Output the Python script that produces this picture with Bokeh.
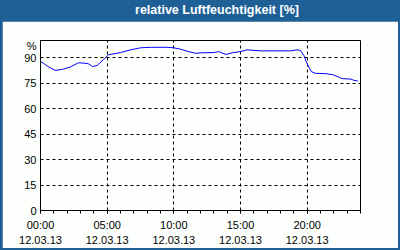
from bokeh.plotting import figure
from bokeh.models import Range1d, FixedTicker, Div
from bokeh.layouts import column
from bokeh.embed import file_html
from bokeh.resources import INLINE

# data: hours since 12.03.13 00:00, relative humidity [%]
hours = [0.0, 0.5, 1.1, 1.65, 2.25, 2.85, 3.25, 3.6, 3.9, 4.25, 4.7, 5.1, 6.0, 6.75, 7.5,
         8.25, 9.5, 10.0, 10.5, 11.0, 11.6, 12.2, 13.0, 13.35, 13.9, 14.4, 15.0, 15.5,
         16.5, 18.75, 19.25, 19.5, 19.75, 20.0, 20.3, 20.6, 21.4, 21.9, 22.25, 22.6,
         23.25, 23.5, 23.8]
humidity = [87.8, 85.0, 82.4, 83.0, 84.5, 86.9, 86.7, 86.3, 84.7, 85.3, 88.6, 91.6, 92.9,
            94.5, 95.7, 96.0, 96.0, 95.7, 94.9, 93.7, 92.5, 92.8, 92.9, 93.5, 91.8, 92.8,
            93.5, 94.5, 93.9, 93.9, 94.5, 94.1, 91.2, 86.3, 81.8, 80.7, 80.5, 79.9, 78.9,
            77.6, 77.3, 76.6, 76.2]
x_ticks = [0, 5, 10, 15, 20]
x_tick_labels = ["00:00\n12.03.13", "05:00\n12.03.13", "10:00\n12.03.13",
                 "15:00\n12.03.13", "20:00\n12.03.13"]
y_ticks = [0, 15, 30, 45, 60, 75, 90]
title_text = "relative Luftfeuchtigkeit [%]"
unit_text = "%"
unit_pos = 96.5

BLUE = "#1e5f95"
BG = "#fcfffc"
FW, FH = 396, 227          # figure canvas (inside the blue frame)
L, R, T, B = 38, 358, 19, 190  # plot box inside the figure canvas

p = figure(width=FW, height=FH, output_backend="svg", toolbar_location=None,
           x_range=Range1d(0, 24), y_range=Range1d(0, 100),
           min_border_left=L, min_border_right=FW - R, min_border_top=T,
           min_border_bottom=FH - B, margin=(0, 2, 2, 2))
p.background_fill_color = BG
p.border_fill_color = BG
p.outline_line_color = "black"
p.outline_line_width = 1

p.line(hours, humidity, line_color="#0000ff", line_width=1)

font = "Liberation Sans"
xa = p.xaxis[0]
xa.ticker = FixedTicker(ticks=x_ticks, minor_ticks=list(range(0, 25)))
xa.major_label_overrides = {t: s for t, s in zip(x_ticks, x_tick_labels)}
xa.axis_line_color = "black"
xa.major_tick_line_color = "black"
xa.minor_tick_line_color = "black"
xa.major_tick_in = 0
xa.major_tick_out = 3
xa.minor_tick_in = 0
xa.minor_tick_out = 3
xa.major_label_standoff = 5
xa.major_label_text_font = font
xa.major_label_text_font_size = "11px"
xa.major_label_text_color = "black"
xa.major_label_text_line_height = 1.25

ya = p.yaxis[0]
ya.ticker = FixedTicker(ticks=y_ticks + [unit_pos], minor_ticks=[])
ya.major_label_overrides = {unit_pos: unit_text}
ya.axis_line_color = "black"
ya.major_tick_in = 0
ya.major_tick_out = 0
ya.minor_tick_line_color = None
ya.major_label_standoff = 4
ya.major_label_text_font = font
ya.major_label_text_font_size = "11px"
ya.major_label_text_color = "black"

p.xgrid[0].ticker = FixedTicker(ticks=x_ticks)
p.ygrid[0].ticker = FixedTicker(ticks=y_ticks)
for g in (p.xgrid[0], p.ygrid[0]):
    g.grid_line_color = "black"
    g.grid_line_dash = "3 3"
    g.grid_line_width = 1
    g.grid_line_alpha = 1.0

title_div = Div(text=title_text, width=400, height=21, margin=0,
                styles={"background-color": BLUE, "color": "white",
                        "font-family": font, "font-weight": "bold",
                        "font-size": "12.5px", "line-height": "21px",
                        "text-align": "center", "padding-left": "34px",
                        "box-sizing": "border-box", "overflow": "hidden"})

layout = column(title_div, p, width=400, height=250, margin=0, spacing=0,
                styles={"background-color": BLUE})

open("out.html", "w").write(file_html(layout, INLINE))
